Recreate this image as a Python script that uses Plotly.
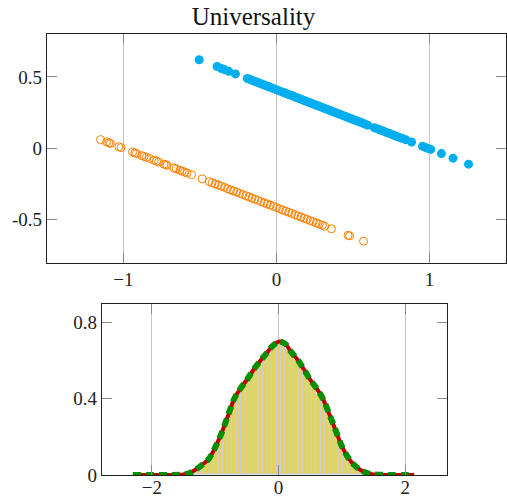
import plotly.graph_objects as go

# ---------------- data ----------------
blue_x = [-0.505, -0.388, -0.36, -0.34, -0.312, -0.268, -0.19, -0.175, -0.16, -0.145, -0.13, -0.115,
          -0.1, -0.085, -0.07, -0.055, -0.04, -0.02, 0.0, 0.02, 0.04, 0.055, 0.07, 0.085, 0.1, 0.115,
          0.13, 0.145, 0.16, 0.175, 0.19, 0.205, 0.22, 0.235, 0.25, 0.265, 0.28, 0.295, 0.31, 0.325,
          0.34, 0.355, 0.37, 0.385, 0.4, 0.415, 0.43, 0.445, 0.46, 0.475, 0.49, 0.505, 0.52, 0.535,
          0.55, 0.565, 0.58, 0.597, 0.64, 0.66, 0.68, 0.70, 0.72, 0.74, 0.76, 0.78, 0.80, 0.82,
          0.846, 0.883, 0.955, 0.975, 0.99, 1.008, 1.078, 1.154, 1.255]
blue_y = [0.620, 0.573, 0.559, 0.551, 0.539, 0.521, 0.489, 0.483, 0.476, 0.470, 0.464, 0.458,
          0.452, 0.445, 0.439, 0.433, 0.427, 0.418, 0.410, 0.402, 0.393, 0.387, 0.381, 0.375, 0.369, 0.362,
          0.356, 0.350, 0.344, 0.337, 0.331, 0.325, 0.319, 0.312, 0.306, 0.300, 0.294, 0.288, 0.281, 0.275,
          0.269, 0.263, 0.256, 0.250, 0.244, 0.238, 0.232, 0.225, 0.219, 0.213, 0.207, 0.200, 0.194, 0.188,
          0.182, 0.176, 0.169, 0.162, 0.144, 0.136, 0.128, 0.120, 0.111, 0.103, 0.095, 0.086, 0.078, 0.070,
          0.059, 0.044, 0.014, 0.005, -0.001, -0.008, -0.037, -0.069, -0.111]

orange_x = [-1.149, -1.11, -1.095, -1.085, -1.03, -1.015, -0.94, -0.925, -0.915, -0.88, -0.865, -0.85,
            -0.83, -0.80, -0.785, -0.77, -0.735, -0.725, -0.715, -0.67, -0.655, -0.63, -0.615, -0.6,
            -0.585, -0.555, -0.485, -0.44, -0.42, -0.40, -0.38, -0.36, -0.34, -0.32, -0.30, -0.28,
            -0.26, -0.24, -0.22, -0.20, -0.18, -0.16, -0.14, -0.12, -0.10, -0.08, -0.06, -0.04, -0.02,
            0.0, 0.02, 0.04, 0.06, 0.08, 0.10, 0.12, 0.14, 0.16, 0.18, 0.20, 0.22, 0.24, 0.26, 0.28,
            0.30, 0.316, 0.359, 0.468, 0.478, 0.569]
orange_y = [0.061, 0.045, 0.038, 0.034, 0.011, 0.005, -0.026, -0.032, -0.036, -0.051, -0.057, -0.063,
            -0.071, -0.084, -0.090, -0.096, -0.111, -0.115, -0.119, -0.138, -0.144, -0.154, -0.160, -0.167,
            -0.173, -0.185, -0.214, -0.233, -0.241, -0.249, -0.258, -0.266, -0.274, -0.283, -0.291, -0.299,
            -0.307, -0.316, -0.324, -0.332, -0.340, -0.349, -0.357, -0.365, -0.374, -0.382, -0.390, -0.398, -0.407,
            -0.415, -0.423, -0.432, -0.440, -0.448, -0.456, -0.465, -0.473, -0.481, -0.490, -0.498, -0.506,
            -0.514, -0.523, -0.531, -0.539, -0.546, -0.564, -0.609, -0.613, -0.651]

bar_x = [-1.33, -1.26, -1.19, -1.12, -1.05, -0.98, -0.91, -0.84, -0.77, -0.70, -0.63, -0.56, -0.49,
         -0.42, -0.35, -0.28, -0.21, -0.14, -0.07, 0.00, 0.07, 0.14, 0.21, 0.28, 0.35, 0.42, 0.49,
         0.56, 0.63, 0.70, 0.77, 0.84, 0.91, 0.98, 1.05, 1.12, 1.19, 1.26, 1.33, 1.40]
bar_y = [0.01, 0.025, 0.043, 0.063, 0.095, 0.14, 0.2, 0.255, 0.32, 0.385, 0.425, 0.457, 0.49,
         0.525, 0.557, 0.588, 0.617, 0.647, 0.672, 0.685, 0.675, 0.657, 0.627, 0.6, 0.565, 0.533, 0.493,
         0.455, 0.42, 0.385, 0.33, 0.27, 0.22, 0.15, 0.105, 0.065, 0.04, 0.022, 0.01, 0.004]

curve_x = [-2.3, -2.0, -1.7, -1.5, -1.4, -1.3, -1.2, -1.1, -1.0, -0.9, -0.8, -0.7, -0.6, -0.5, -0.4,
           -0.3, -0.2, -0.1, 0.0, 0.1, 0.2, 0.3, 0.4, 0.5, 0.6, 0.7, 0.8, 0.9, 1.0, 1.1, 1.2, 1.3,
           1.4, 1.5, 1.8, 2.14]
curve_y = [0.0, 0.0, 0.0, 0.003, 0.01, 0.03, 0.055, 0.085, 0.145, 0.22, 0.31, 0.40, 0.455, 0.50, 0.55,
           0.595, 0.635, 0.675, 0.70, 0.69, 0.645, 0.605, 0.555, 0.50, 0.455, 0.40, 0.32, 0.235, 0.15,
           0.09, 0.05, 0.025, 0.01, 0.003, 0.0, 0.0]

top_xticks = [-1, 0, 1]
top_xtext = ["\u22121", "0", "1"]
top_yticks = [-0.5, 0, 0.5]
top_ytext = ["-0.5", "0", "0.5"]
bot_xticks = [-2, 0, 2]
bot_xtext = ["\u22122", "0", "2"]
bot_yticks = [0, 0.4, 0.8]
bot_ytext = ["0", "0.4", "0.8"]

# ---------------- figure ----------------
W, H = 507, 509
K = H / 497.0  # vertical design scale (positions designed for a 497 px tall picture)
FONT = "Liberation Serif"


def ydom(top_px, bottom_px):
    return [1 - bottom_px * K / H, 1 - top_px * K / H]


fig = go.Figure()
fig.add_trace(go.Scatter(x=blue_x, y=blue_y, mode="markers", xaxis="x", yaxis="y",
                         marker=dict(color="#00AEEF", size=9, line=dict(width=0))))
fig.add_trace(go.Scatter(x=orange_x, y=orange_y, mode="markers", xaxis="x", yaxis="y",
                         marker=dict(symbol="circle-open", color="#FF7F00", size=8, line=dict(width=1))))
fig.add_trace(go.Bar(x=bar_x, y=bar_y, width=0.07, xaxis="x2", yaxis="y2",
                     marker=dict(color="#E4D45A", line=dict(color="#C8CCE8", width=1))))
fig.add_trace(go.Scatter(x=curve_x, y=curve_y, mode="lines", xaxis="x2", yaxis="y2",
                         line=dict(color="#BE0000", width=4, shape="spline")))
fig.add_trace(go.Scatter(x=curve_x, y=curve_y, mode="lines", xaxis="x2", yaxis="y2",
                         line=dict(color="#008F00", width=6, shape="spline", dash="8px,5px")))

axis_common = dict(showline=True, linecolor="#222222", linewidth=1, mirror="ticks",
                   ticks="inside", ticklen=10, tickcolor="#8a8a8a", tickwidth=1,
                   zeroline=False, tickfont=dict(family=FONT, size=19, color="#222222"))

fig.update_layout(
    width=W, height=H, margin=dict(l=0, r=0, t=0, b=0),
    paper_bgcolor="white", plot_bgcolor="white", showlegend=False, bargap=0,
    title=dict(text="Universality", x=0.5, xanchor="center", y=1 - 16 * K / H, yanchor="middle",
               font=dict(family=FONT, size=25, color="#111111")),
    xaxis=dict(domain=[47 / W, 1.0], range=[-1.5, 1.5], tickvals=top_xticks, ticktext=top_xtext,
               showgrid=True, gridcolor="#c4c4c4", gridwidth=1, anchor="y", **axis_common),
    yaxis=dict(domain=ydom(34, 262), range=[-0.8, 0.8], tickvals=top_yticks,
               ticktext=top_ytext, showgrid=False, anchor="x", **axis_common),
    xaxis2=dict(domain=[102 / W, 448 / W], range=[-2.79, 2.66], tickvals=bot_xticks, ticktext=bot_xtext,
                showgrid=True, gridcolor="#c4c4c4", gridwidth=1, anchor="y2", ticklabelstandoff=-5,
                **axis_common),
    yaxis2=dict(domain=ydom(303, 474), range=[0, 0.9], tickvals=bot_yticks,
                ticktext=bot_ytext, showgrid=False, anchor="x2", **axis_common),
)

POST = ("var s=document.createElement('style');"
        "s.textContent='html,body{margin:0;padding:0;overflow:hidden;}';"
        "document.head.appendChild(s);")

fig.write_html("out.html", config={"responsive": False, "displayModeBar": False},
               post_script=POST)
